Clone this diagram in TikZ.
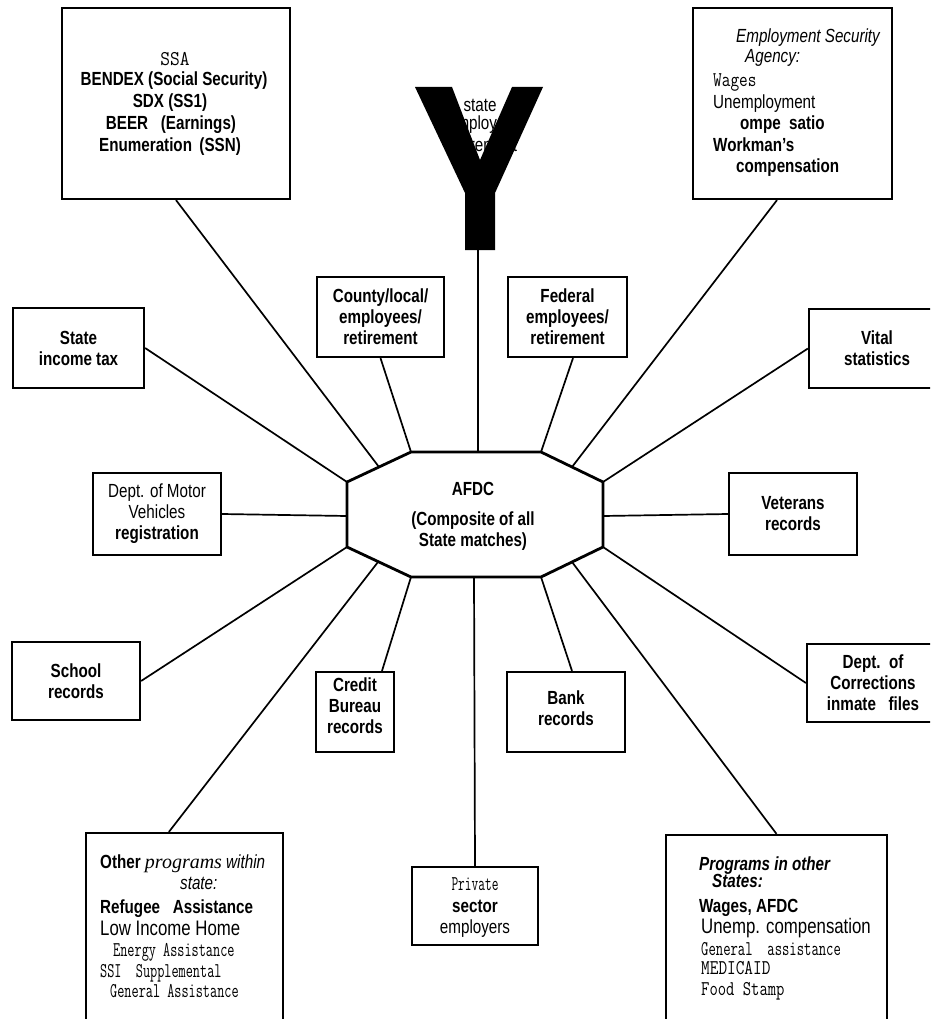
\documentclass[tikz,border=0pt]{standalone}
\usepackage{fontspec}
\usepackage{graphicx}
\setmainfont{Liberation Sans}
\newfontfamily\ns[FakeStretch=0.8]{Liberation Sans}
\newfontfamily\tms{Liberation Serif}
\usetikzlibrary{calc}
\newcommand{\mtx}[2][0.7]{{\ttfamily\fontsize{21}{21}\selectfont\scalebox{#1}[1]{#2}}}
\begin{document}
\begin{tikzpicture}[x=1pt,y=-1pt,
  box/.style={draw, line width=2.2pt, inner sep=0pt},
  conn/.style={line width=1.7pt},
  bt/.style={font=\ns\bfseries\fontsize{19}{21}\selectfont, align=center, inner sep=0pt},
  rt/.style={font=\ns\fontsize{19}{21}\selectfont, align=center, inner sep=0pt},
  it/.style={font=\ns\itshape\fontsize{19}{21}\selectfont, inner sep=0pt},
  bit/.style={font=\ns\bfseries\itshape\fontsize{19}{21}\selectfont, inner sep=0pt},
  big/.style={font=\ns\fontsize{21}{21}\selectfont, inner sep=0pt},
  ln/.style={anchor=base west, inner sep=0pt},
  lc/.style={anchor=base, inner sep=0pt}]
\useasboundingbox (0,0) rectangle (930,1019);
\clip (0,0) rectangle (930,1019);

% octagon points
\coordinate (o1) at (411,452);
\coordinate (o2) at (541,452);
\coordinate (o3) at (603,482);
\coordinate (o4) at (603,547);
\coordinate (o5) at (541,577);
\coordinate (o6) at (411,577);
\coordinate (o7) at (347,547);
\coordinate (o8) at (347,482);
\coordinate (oT) at (478,452);
\coordinate (oB) at (474,577);
\coordinate (oL) at (347,516);
\coordinate (oR) at (603,516);
\coordinate (oUL) at (379,467);
\coordinate (oUR) at (572,467);
\coordinate (oLL) at (378,562);
\coordinate (oLR) at (572,562);

% boxes
\node[box, minimum width=228pt, minimum height=191pt] (ssa) at (176,103.5) {};
\node[box, minimum width=199pt, minimum height=191pt] (esa) at (792.5,103.5) {};
\node[box, bt, minimum width=127pt, minimum height=80pt] (county) at (380.5,317) {County/local/\\employees/\\retirement};
\node[box, bt, minimum width=119pt, minimum height=80pt] (federal) at (567.5,317) {Federal\\employees/\\retirement};
\node[box, bt, minimum width=131pt, minimum height=80pt] (sit) at (78.5,348) {State\\income tax};
\node[box, rt, minimum width=128pt, minimum height=82pt] (motor) at (157,514) {Dept. of Motor\\Vehicles\\\textbf{registration}};
\node[box, bt, minimum width=136pt, minimum height=79pt] (vital) at (877,348.5) {Vital\\statistics};
\node[box, bt, minimum width=128pt, minimum height=82pt] (veterans) at (793,514) {Veterans\\records};
\node[box, bt, minimum width=132pt, minimum height=78pt] (corr) at (873,683) {Dept.\ \ of\\Corrections\\inmate\ \ \ files};
\node[box, bt, minimum width=128pt, minimum height=78pt] (school) at (76,681) {School\\records};
\node[box, minimum width=78pt, minimum height=80pt] (credit) at (355,712) {};
\node[bt] (creditt) at (355,706) {Credit\\Bureau\\records};
\node[box, minimum width=118pt, minimum height=80pt] (bank) at (566,712) {};
\node[bt] (bankt) at (566,708) {Bank\\records};
\node[box, minimum width=126pt, minimum height=78pt] (private) at (475,906) {};
\node[box, minimum width=197pt, minimum height=197pt] (other) at (184.5,931.5) {};
\node[box, minimum width=221pt, minimum height=195pt] (states) at (776.5,932.5) {};

% SSA text
\node[lc] (ssa1) at (175,66) {\mtx[0.9]{SSA}};
\node[lc, bt] (ssa2) at (174,86) {BENDEX (Social Security)};
\node[lc, bt] (ssa3) at (170,108) {SDX (SS1)};
\node[lc, bt] (ssa4) at (171,130) {BEER\ \ \ (Earnings)};
\node[lc, bt] (ssa5) at (170,152) {Enumeration\ \,(SSN)};

% ESA text
\node[ln, it] (esa1) at (736,43) {Employment Security};
\node[ln, it] (esa2) at (745,63) {Agency:};
\node[ln] (esa3) at (713,87) {\mtx[0.8]{Wages}};
\node[ln, rt] (esa4) at (713,109) {Unemployment};
\node[ln, bt] (esa5) at (740,130) {ompe\ \ satio};
\node[ln, bt] (esa6) at (713,152) {Workman’s};
\node[ln, bt] (esa7) at (736,173) {compensation};

% text under the Y
\node[lc, rt] (yt1) at (480,112) {state};
\node[lc, rt] (yt2) at (481,130) {employee};
\node[lc, rt] (yt3) at (483,152) {retirement};
\fill (415,87) -- (452,87) -- (480,160) -- (512,87) -- (543,87) -- (495,193)
  -- (495,250) -- (465,250) -- (465,193) -- cycle;
\coordinate (ybot) at (478,250);

% private text
\node[lc] (pv1) at (475,890) {\mtx[0.62]{Private}};
\node[lc, bt] (pv2) at (475,912) {sector};
\node[lc, rt] (pv3) at (475,933) {employers};

% other programs text
\node[ln, rt] (op1) at (100,868) {\textbf{Other} {\tms\itshape\fontsize{20}{21}\selectfont programs} \textit{within}};
\node[ln, it] (op2) at (180,889) {state:};
\node[ln, bt] (op3) at (100,913) {Refugee\ \ \ Assistance};
\node[ln, big] (op4) at (100,935) {Low Income Home};
\node[ln] (op5) at (113,956) {\mtx[0.66]{Energy Assistance}};
\node[ln] (op6) at (100,977) {\mtx[0.66]{SSI\ \ Supplemental}};
\node[ln] (op7) at (110,997) {\mtx[0.66]{General Assistance}};

% programs in other states text
\node[ln, bit] (ps1) at (699,870) {Programs in other};
\node[ln, bit] (ps2) at (712,887) {States:};
\node[ln, bt] (ps3) at (699,912) {Wages, AFDC};
\node[ln, big] (ps4) at (701,933) {Unemp. compensation};
\node[ln] (ps5) at (701,955) {\mtx[0.68]{General\ \ assistance}};
\node[ln] (ps6) at (701,974) {\mtx[0.8]{MEDICAID}};
\node[ln] (ps7) at (701,995) {\mtx[0.77]{Food\ Stamp}};

% connectors
\draw[conn] (ssa.south) -- (oUL);
\draw[conn] ($(esa.south)+(-15.5,0)$) -- (oUR);
\draw[conn] (ybot) -- (oT);
\draw[conn] (county.south) -- (o1);
\draw[conn] ($(federal.south)+(5.5,0)$) -- (o2);
\draw[conn] (sit.east) -- (o8);
\draw[conn] (vital.west) -- (o3);
\draw[conn] (motor.east) -- (oL);
\draw[conn] (veterans.west) -- (oR);
\draw[conn] (school.east) -- (o7);
\draw[conn] (corr.west) -- (o4);
\draw[conn] ($(credit.north)+(27,0)$) -- (o6);
\draw[conn] ($(bank.north)+(6,0)$) -- (o5);
\draw[conn] (private.north) -- (oB);
\draw[conn] ($(other.north west)+(84,0)$) -- (oLL);
\draw[conn] (states.north) -- (oLR);

% octagon
\draw[line width=2.8pt, line join=miter] (o1) -- (o2) -- (o3) -- (o4) -- (o5) -- (o6) -- (o7) -- (o8) -- cycle;
\node[bt] (afdc) at (473,516) {AFDC\\[9pt](Composite of all\\State matches)};
\end{tikzpicture}
\end{document}
